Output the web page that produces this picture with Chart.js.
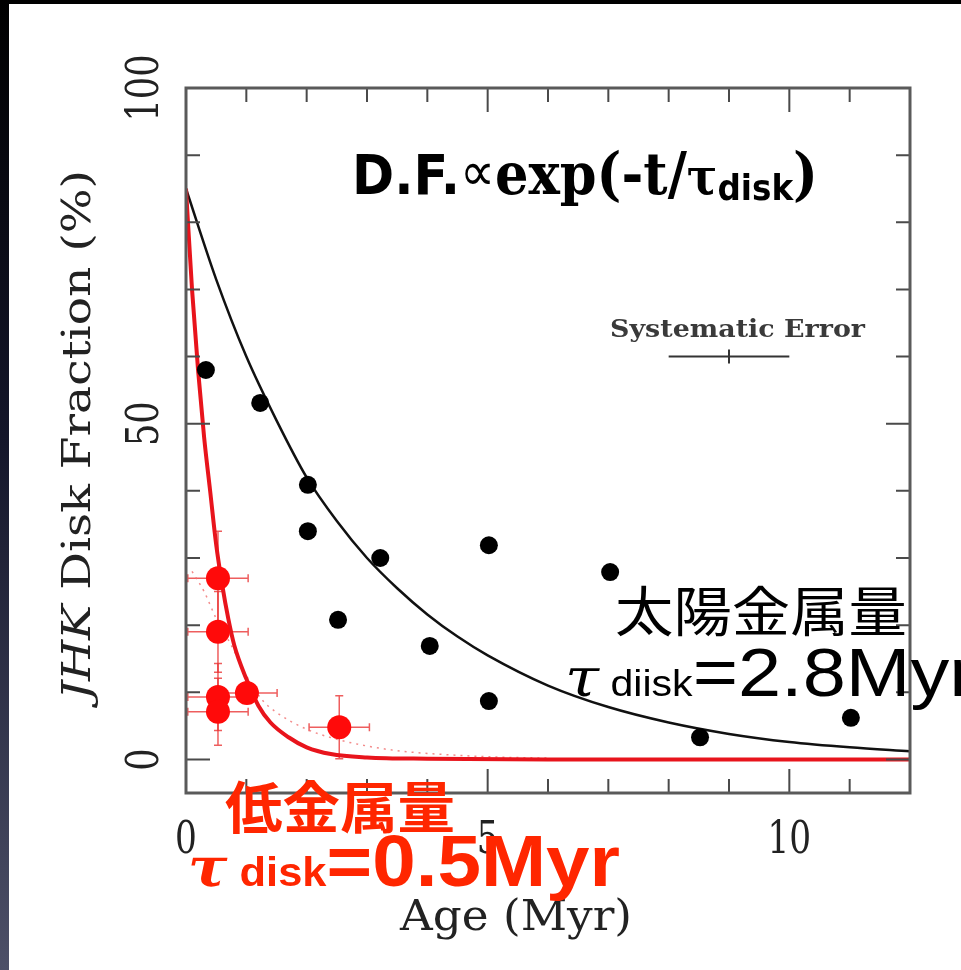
<!DOCTYPE html>
<html lang="ja">
<head>
<meta charset="UTF-8">
<title>JHK Disk Fraction</title>
<script src="https://cdn.jsdelivr.net/npm/chart.js"></script>
<style>
  html, body { margin: 0; padding: 0; background: #fff; }
  #wrap { position: relative; width: 961px; height: 970px; overflow: hidden; background: #fff; }
  #topBand { position: absolute; left: 0; top: 0; width: 961px; height: 4px; background: #000; z-index: 2; }
  #leftBand { position: absolute; left: 0; top: 0; width: 9px; height: 970px; z-index: 2;
              background: linear-gradient(#000 0%, #14162a 45%, #4d5068 100%); }
  canvas { position: absolute; left: 0; top: 0; }
</style>
</head>
<body>
<div id="wrap">
  <canvas id="diskChart" width="961" height="970"></canvas>
  <div id="topBand"></div>
  <div id="leftBand"></div>
</div>

<script>
// solar metallicity clusters (black dots)
const blackAge  = [0.33, 1.23, 2.02, 2.02, 2.52, 3.22, 4.04, 5.02, 5.02, 7.03, 8.52, 11.02];
const blackFrac = [58.0, 53.1, 40.9, 34.0, 20.8, 30.0, 16.9, 31.9, 8.7, 27.9, 3.3, 6.2];

// low metallicity clusters (red dots) + error bars
const redAge     = [0.53, 0.53, 0.53, 0.53, 1.01, 2.54];
const redFrac    = [27.0, 19.0, 9.3, 7.1, 9.9, 4.8];
const redAgeErr  = [0.5, 0.5, 0.5, 0.5, 0.5, 0.5];
const redFracErr = [7, 6, 5, 5, 0, 4.7];

// fitted curves
const blackFitAge  = [0, 0.5, 1, 1.5, 2, 2.5, 3, 3.5, 4, 4.5, 5, 6, 7, 8, 9, 10, 11, 12];
const blackFitFrac = [85, 71.5, 60, 50.5, 42, 35.5, 30, 25.5, 21.6, 18.3, 15.5, 11.0, 7.8, 5.5, 3.8, 2.6, 1.8, 1.2];

const redFitAge  = [0, 0.1, 0.2, 0.3, 0.4, 0.5, 0.6, 0.7, 0.8, 1.0, 1.2, 1.4, 1.7, 2.0, 2.4, 3.0, 4.0, 6.0, 9.0, 12];
const redFitFrac = [85, 70, 58, 48, 40, 32, 26, 21, 17, 12, 8, 5.5, 3.3, 1.8, 0.8, 0.3, 0.1, 0, 0, 0];

const redDotAge  = [0.1, 0.3, 0.5, 0.75, 1.0, 1.25, 1.5, 2.0, 2.5, 3.0, 3.5, 4.0, 5.0, 6.0];
const redDotFrac = [28, 25, 21, 17, 12.5, 9, 7, 4.5, 3, 2, 1.3, 0.9, 0.4, 0.2];

// systematic error bar (age range, fraction level)
const sysErrAge  = [8, 10];
const sysErrFrac = 60;

// axes
const xTickValues = [0, 1, 2, 3, 4, 5, 6, 7, 8, 9, 10, 11, 12];
const xMajor      = [0, 5, 10];
const xTickLabels = ['0', '5', '10'];
const yTickValues = [0, 10, 20, 30, 40, 50, 60, 70, 80, 90, 100];
const yMajor      = [0, 50, 100];
const yTickLabels = ['0', '50', '100'];

const toPts = (xs, ys) => xs.map((v, i) => ({ x: v, y: ys[i] }));

// draw several text pieces in a row, stretched to fit between x0 and x1
function drawRuns(ctx, runs, x0, x1, base) {
    let total = 0;
    runs.forEach(r => { ctx.font = r.font; r.w = ctx.measureText(r.text).width; total += r.w; });
    const k = (x1 - x0) / total;
    ctx.save();
    ctx.translate(x0, base);
    ctx.scale(k, 1);
    ctx.textAlign = 'left';
    ctx.textBaseline = 'alphabetic';
    let cx = 0;
    runs.forEach(r => {
        ctx.font = r.font;
        ctx.fillStyle = r.color;
        ctx.fillText(r.text, cx, r.dy || 0);
        cx += r.w;
    });
    ctx.restore();
}

const errorBars = {
    id: 'errorBars',
    beforeDatasetsDraw(chart) {
        const { ctx, scales: { x, y } } = chart;
        ctx.save();
        ctx.strokeStyle = 'rgba(232,40,40,0.75)';
        ctx.lineWidth = 1.5;
        redAge.forEach((t, i) => {
            const px = x.getPixelForValue(t), py = y.getPixelForValue(redFrac[i]);
            const x0 = x.getPixelForValue(t - redAgeErr[i]), x1 = x.getPixelForValue(t + redAgeErr[i]);
            ctx.beginPath();
            ctx.moveTo(x0, py); ctx.lineTo(x1, py);
            ctx.moveTo(x0, py - 4); ctx.lineTo(x0, py + 4);
            ctx.moveTo(x1, py - 4); ctx.lineTo(x1, py + 4);
            if (redFracErr[i] > 0) {
                const y0 = y.getPixelForValue(redFrac[i] - redFracErr[i]);
                const y1 = y.getPixelForValue(redFrac[i] + redFracErr[i]);
                ctx.moveTo(px, y0); ctx.lineTo(px, y1);
                ctx.moveTo(px - 4, y0); ctx.lineTo(px + 4, y0);
                ctx.moveTo(px - 4, y1); ctx.lineTo(px + 4, y1);
            }
            ctx.stroke();
        });
        ctx.restore();
    }
};

// box frame with inward ticks on all four sides, tick labels, axis titles
const frame = {
    id: 'frame',
    afterDatasetsDraw(chart) {
        const { ctx, chartArea: a, scales: { x, y } } = chart;
        ctx.save();
        ctx.strokeStyle = '#4a4a4a';
        ctx.lineWidth = 2;
        ctx.beginPath();
        xTickValues.forEach(v => {
            const px = x.getPixelForValue(v);
            const len = xMajor.includes(v) ? 24 : 14;
            ctx.moveTo(px, a.bottom); ctx.lineTo(px, a.bottom - len);
            ctx.moveTo(px, a.top); ctx.lineTo(px, a.top + len);
        });
        yTickValues.forEach(v => {
            const py = y.getPixelForValue(v);
            const len = yMajor.includes(v) ? 24 : 14;
            ctx.moveTo(a.left, py); ctx.lineTo(a.left + len, py);
            ctx.moveTo(a.right, py); ctx.lineTo(a.right - len, py);
        });
        ctx.stroke();
        ctx.strokeStyle = '#5a5a5a';
        ctx.lineWidth = 3;
        ctx.strokeRect(a.left, a.top, a.right - a.left, a.bottom - a.top);

        // systematic error bar
        const sx0 = x.getPixelForValue(sysErrAge[0]), sx1 = x.getPixelForValue(sysErrAge[1]);
        const sy = y.getPixelForValue(sysErrFrac);
        ctx.strokeStyle = '#333';
        ctx.lineWidth = 2;
        ctx.beginPath();
        ctx.moveTo(sx0, sy); ctx.lineTo(sx1, sy);
        ctx.moveTo((sx0 + sx1) / 2, sy - 7); ctx.lineTo((sx0 + sx1) / 2, sy + 7);
        ctx.stroke();

        // tick labels
        ctx.fillStyle = '#222';
        ctx.font = '44px "DejaVu Serif"';
        ctx.textAlign = 'center';
        ctx.textBaseline = 'alphabetic';
        xMajor.forEach((v, i) => {
            ctx.save();
            ctx.translate(x.getPixelForValue(v), 853);
            ctx.scale(0.78, 1);
            ctx.fillText(xTickLabels[i], 0, 0);
            ctx.restore();
        });
        yMajor.forEach((v, i) => {
            ctx.save();
            ctx.translate(158, y.getPixelForValue(v));
            ctx.rotate(-Math.PI / 2);
            ctx.scale(0.8, 1);
            ctx.fillText(yTickLabels[i], 0, 0);
            ctx.restore();
        });

        // axis titles
        drawRuns(ctx, [{ text: 'Age (Myr)', font: '42px "DejaVu Serif"', color: '#222' }], 400, 632, 930);
        ctx.save();
        ctx.translate(90, 435);
        ctx.rotate(-Math.PI / 2);
        drawRuns(ctx, [
            { text: 'JHK', font: 'italic 40px "DejaVu Serif"', color: '#222' },
            { text: ' Disk Fraction (%)', font: '40px "DejaVu Serif"', color: '#222' }
        ], -265, 265, 0);
        ctx.restore();

        drawRuns(ctx, [{ text: 'Systematic Error', font: 'bold 25px "DejaVu Serif"', color: '#3a3a3a' }], 610, 865, 337);
        ctx.restore();
    }
};

// slide annotations on top
const notes = {
    id: 'notes',
    afterDraw(chart) {
        const ctx = chart.ctx;
        ctx.save();
        drawRuns(ctx, [
            { text: 'D.F.', font: 'bold 56px "DejaVu Sans"', color: '#000' },
            { text: '\u221D', font: '54px "DejaVu Sans"', color: '#000', dy: -4 },
            { text: 'exp(-t/', font: 'bold 58px "DejaVu Serif"', color: '#000' },
            { text: '\u03C4', font: 'bold 50px "DejaVu Serif"', color: '#000' },
            { text: 'disk', font: 'bold 36px "DejaVu Sans"', color: '#000', dy: 6 },
            { text: ')', font: 'bold 58px "DejaVu Serif"', color: '#000' }
        ], 352, 818, 194);

        drawRuns(ctx, [{ text: '太陽金属量', font: '54px "Noto Sans CJK JP"', color: '#000' }], 615, 907, 632);
        drawRuns(ctx, [
            { text: '\u03C4', font: 'italic 54px "DejaVu Serif"', color: '#000' },
            { text: ' diisk', font: '36px "Liberation Sans"', color: '#000' },
            { text: '=2.8Myr', font: '68px "Liberation Sans"', color: '#000' }
        ], 565, 975, 696);

        const red = '#ff2600';
        drawRuns(ctx, [{ text: '低金属量', font: 'bold 56px "Noto Sans CJK JP"', color: red }], 225, 455, 828);
        drawRuns(ctx, [
            { text: '\u03C4', font: 'bold italic 54px "DejaVu Serif"', color: red },
            { text: ' disk', font: 'bold 40px "Liberation Sans"', color: red },
            { text: '=0.5Myr', font: 'bold 72px "Liberation Sans"', color: red }
        ], 188, 620, 886);
        ctx.restore();
    }
};

new Chart(document.getElementById('diskChart'), {
    type: 'scatter',
    data: {
        datasets: [
            {
                label: 'low Z',
                data: toPts(redAge, redFrac),
                pointRadius: 12,
                pointBackgroundColor: '#ff0a0a',
                pointBorderWidth: 0,
                order: 0
            },
            {
                label: 'solar Z',
                data: toPts(blackAge, blackFrac),
                pointRadius: 9,
                pointBackgroundColor: '#000',
                pointBorderWidth: 0,
                order: 1
            },
            {
                label: 'fit 0.5 Myr',
                data: toPts(redFitAge, redFitFrac),
                showLine: true,
                pointRadius: 0,
                borderColor: '#e8141c',
                borderWidth: 4,
                cubicInterpolationMode: 'monotone',
                order: 2
            },
            {
                label: 'fit 2.8 Myr',
                data: toPts(blackFitAge, blackFitFrac),
                showLine: true,
                pointRadius: 0,
                borderColor: '#111',
                borderWidth: 2.5,
                cubicInterpolationMode: 'monotone',
                order: 3
            },
            {
                label: 'dotted',
                data: toPts(redDotAge, redDotFrac),
                showLine: true,
                pointRadius: 0,
                borderColor: 'rgba(240,110,110,0.8)',
                borderWidth: 1.5,
                borderDash: [2, 5],
                cubicInterpolationMode: 'monotone',
                order: 4
            }
        ]
    },
    options: {
        responsive: false,
        animation: false,
        layout: { padding: { left: 186, right: 51, top: 88, bottom: 177 } },
        scales: {
            x: { type: 'linear', min: 0, max: 12, display: false },
            y: { type: 'linear', min: -5, max: 100, display: false }
        },
        plugins: {
            legend: { display: false },
            tooltip: { enabled: false }
        }
    },
    plugins: [errorBars, frame, notes]
});
</script>
</body>
</html>
